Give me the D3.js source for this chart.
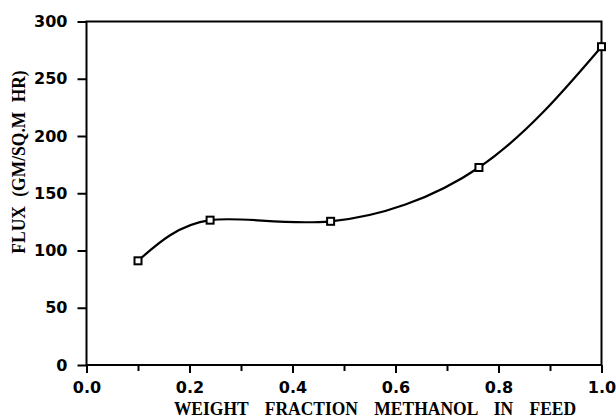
<!DOCTYPE html>
<html>
<head>
<meta charset="utf-8">
<script src="https://cdn.jsdelivr.net/npm/d3@7"></script>
<style>
  body { margin: 0; background: #fff; }
  svg { display: block; }
</style>
</head>
<body>
<svg id="chart" width="616" height="418"></svg>
<script>
// data
const fraction = [0.10, 0.24, 0.474, 0.762, 1.0];
const flux = [91, 126.5, 125.5, 172.5, 278];
const yTicks = [0, 50, 100, 150, 200, 250, 300];
const xMajor = [0.0, 0.2, 0.4, 0.6, 0.8, 1.0];
const xMinor = [0.1, 0.3, 0.5, 0.7, 0.9];

const margin = { top: 21.5, right: 14.5, bottom: 53, left: 86.5 };
const svg = d3.select("svg#chart");
const width = +svg.attr("width") - margin.left - margin.right;
const height = +svg.attr("height") - margin.top - margin.bottom;

const g = svg.append("g")
  .attr("transform", `translate(${margin.left}, ${margin.top})`);

const x = d3.scaleLinear().domain([0, 1]).range([0, width]);
const y = d3.scaleLinear().domain([0, 300]).range([height, 0]);

const tickFont = (sel) => sel
  .attr("font-family", "DejaVu Sans")
  .attr("font-weight", "bold")
  .attr("font-size", 16)
  .attr("fill", "#000");

// minor x ticks (no labels)
g.append("g")
  .attr("transform", `translate(0, ${height})`)
  .call(d3.axisBottom(x).tickValues(xMinor).tickSize(6).tickSizeOuter(0).tickFormat(""))
  .call((a) => a.select(".domain").remove())
  .selectAll("line").attr("stroke", "#000").attr("stroke-width", 2);

// major x ticks
const xAxis = g.append("g")
  .attr("transform", `translate(0, ${height})`)
  .call(d3.axisBottom(x).tickValues(xMajor).tickSize(8).tickSizeOuter(0)
    .tickPadding(9).tickFormat(d3.format(".1f")));
xAxis.select(".domain").remove();
xAxis.selectAll("line").attr("stroke", "#000").attr("stroke-width", 2);
xAxis.selectAll("text").call(tickFont);

// y axis
const yAxis = g.append("g")
  .call(d3.axisLeft(y).tickValues(yTicks).tickSize(9).tickSizeOuter(0).tickPadding(10));
yAxis.select(".domain").remove();
yAxis.selectAll("line").attr("stroke", "#000").attr("stroke-width", 2);
yAxis.selectAll("text").call(tickFont);

// frame
g.append("rect")
  .attr("x", 0).attr("y", 0)
  .attr("width", width).attr("height", height)
  .attr("fill", "none")
  .attr("stroke", "#000")
  .attr("stroke-width", 2);

// fitted curve
const pts = fraction.map((f, i) => [f, flux[i]]);
g.append("path")
  .datum(pts)
  .attr("fill", "none")
  .attr("stroke", "#000")
  .attr("stroke-width", 2.2)
  .attr("d", d3.line().x((d) => x(d[0])).y((d) => y(d[1])).curve(d3.curveNatural));

// square markers
g.append("g")
  .selectAll("rect")
  .data(pts)
  .join("rect")
  .attr("x", (d) => x(d[0]) - 3.5)
  .attr("y", (d) => y(d[1]) - 3.5)
  .attr("width", 7)
  .attr("height", 7)
  .attr("fill", "#fff")
  .attr("stroke", "#000")
  .attr("stroke-width", 2);

// axis titles (serif, a bit taller than the stock face)
const titleFont = (sel) => sel
  .attr("font-family", "Liberation Serif")
  .attr("font-weight", "bold")
  .attr("font-size", 17.5)
  .attr("fill", "#000");

svg.append("text")
  .attr("transform", "translate(375, 415) scale(1, 1.12)")
  .attr("text-anchor", "middle")
  .attr("word-spacing", 12)
  .call(titleFont)
  .text("WEIGHT FRACTION METHANOL IN FEED");

svg.append("text")
  .attr("transform", "translate(25, 162) rotate(-90) scale(1, 1.12)")
  .attr("text-anchor", "middle")
  .attr("word-spacing", 5)
  .call(titleFont)
  .text("FLUX (GM/SQ.M HR)");
</script>
</body>
</html>
